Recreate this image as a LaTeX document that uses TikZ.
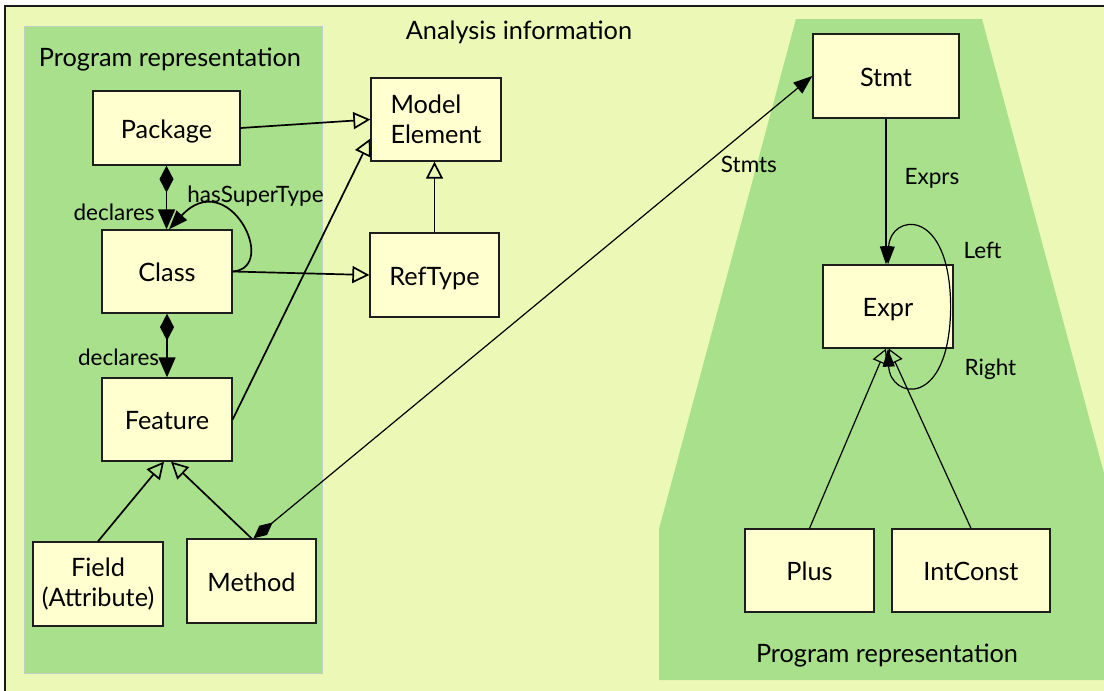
\documentclass[tikz,border=0pt]{standalone}
\usepackage{fontspec}
\setmainfont{Lato}
\usetikzlibrary{arrows.meta,calc}
\definecolor{bgyel}{RGB}{236,249,182}
\definecolor{pgreen}{RGB}{168,224,140}
\definecolor{boxfill}{RGB}{255,255,208}
\definecolor{boxline}{RGB}{30,30,30}
\definecolor{panelline}{RGB}{200,205,195}
\tikzset{
  cls/.style={draw=boxline, fill=boxfill, line width=1.3pt, minimum width=130pt,
    minimum height=83pt, inner sep=0pt, font=\fontsize{25.3}{29.5}\selectfont, align=center},
  one/.style={text height=20pt, text depth=0pt},
  ttl/.style={font=\fontsize{25.3}{30}\selectfont, inner sep=0pt, text height=20pt, text depth=0pt},
  lbl/.style={font=\fontsize{22.5}{26}\selectfont, inner sep=1pt},
  conn/.style={line width=1.7pt, draw=black},
  thin/.style={line width=1.2pt, draw=black},
  gen/.style={-{Triangle[open, length=17pt, width=17pt]}},
  gensmall/.style={-{Triangle[open, length=15pt, width=16pt]}},
  comp/.style={{Diamond[length=27pt, width=14pt]}-{Triangle[length=20pt, width=17pt]}},
  nav/.style={-{Triangle[length=18pt, width=12pt]}},
  navbig/.style={-{Triangle[length=19pt, width=14pt]}},
}
\begin{document}
\begin{tikzpicture}[x=1pt, y=-1pt]
\useasboundingbox (0,0) rectangle (1104,691);
\clip (0,0) rectangle (1104,691);
% outer frame
\draw[fill=bgyel, draw=black!90, line width=2pt] (5,6) rectangle (1130,710);
% left panel
\draw[fill=pgreen, draw=panelline, line width=1pt] (24,26) rectangle (322,673);
% right panel
\fill[pgreen] (796,19) -- (982,19) -- (1119,529) -- (1119,680) -- (659,680) -- (659,529) -- cycle;

% titles
\node[ttl] (title) at (519,29) {Analysis information};
\node[ttl] (ltitle) at (170,56) {Program representation};
\node[ttl] (rtitle) at (887,652.5) {Program representation};

% classes
\node[cls, one, minimum width=147pt, minimum height=74pt] (package) at (166.5,128) {Package};
\node[cls, one] (class) at (167,271.5) {Class};
\node[cls, one] (feature) at (167,419.5) {Feature};
\node[cls, minimum height=84pt] (field) at (98,584) {Field\\(Attribute)};
\node[cls, one, minimum width=129pt, minimum height=84pt] (method) at (251.5,581) {Method};
\node[cls, align=left] (modelel) at (436,119.5) {Model\\Element};
\node[cls, one, minimum width=129pt, minimum height=84pt] (reftype) at (434.5,275) {RefType};
\node[cls, one, minimum width=146pt, minimum height=84pt] (stmt) at (886,76) {Stmt};
\node[cls, one] (expr) at (888,306.5) {Expr};
\node[cls, one, minimum width=129pt] (plus) at (809.5,570.5) {Plus};
\node[cls, one, minimum width=158pt] (intconst) at (971,570.5) {IntConst};

% generalizations (left)
\draw[conn, gen] (package.east) -- (modelel.west);
\draw[conn, gen] (feature.east) -- ([yshift=-19pt]modelel.west);
\draw[conn, gen] (class.east) -- (reftype.west);
\draw[conn, gen] (reftype.north) -- (reftype.north |- modelel.south);
\draw[conn, gen] (field.north) -- ([xshift=-3pt]feature.south);
\draw[conn, gen] (method.north) -- ([xshift=4pt]feature.south);

% compositions
\draw[conn, comp] (package.south) -- (package.south |- class.north)
  node[lbl, pos=0.74, left=10pt] {declares};
\draw[conn, comp] (class.south) -- (class.south |- feature.north)
  node[lbl, pos=0.68, left=6pt] {declares};
\draw[conn, navbig] (class.east) .. controls (280,268) and (228,165) .. ([xshift=2pt]class.north)
  node[lbl, pos=0.75, anchor=south, xshift=45pt] {hasSuperType};

% Stmts
\draw[thin, {Diamond[length=25pt, width=12pt]}-{Triangle[length=19pt, width=14pt]}]
  ([xshift=2pt]method.north) -- (stmt.west)
  node[lbl, pos=0.83, anchor=north west, xshift=2pt] {Stmts};
% Exprs
\draw[thin, nav] (stmt.south) -- (stmt.south |- expr.north)
  node[lbl, pos=0.41, right=17pt] {Exprs};

% right generalizations
\draw[thin, gensmall] (plus.north) -- ([xshift=-2pt]expr.south);
\draw[thin, gensmall] (intconst.north) -- ([xshift=1pt]expr.south);

% self loops
\draw[thin, nav] ([xshift=-3pt]expr.east) .. controls (950,205) and (890,214) .. (expr.north)
  node[lbl, pos=0.2, anchor=west, xshift=18pt, yshift=8pt] {Left};
\draw[thin, nav] ([xshift=-3pt]expr.east) .. controls (950,410) and (890,399) .. (expr.south)
  node[lbl, pos=0.2, anchor=west, xshift=19pt, yshift=-14pt] {Right};
\end{tikzpicture}
\end{document}
